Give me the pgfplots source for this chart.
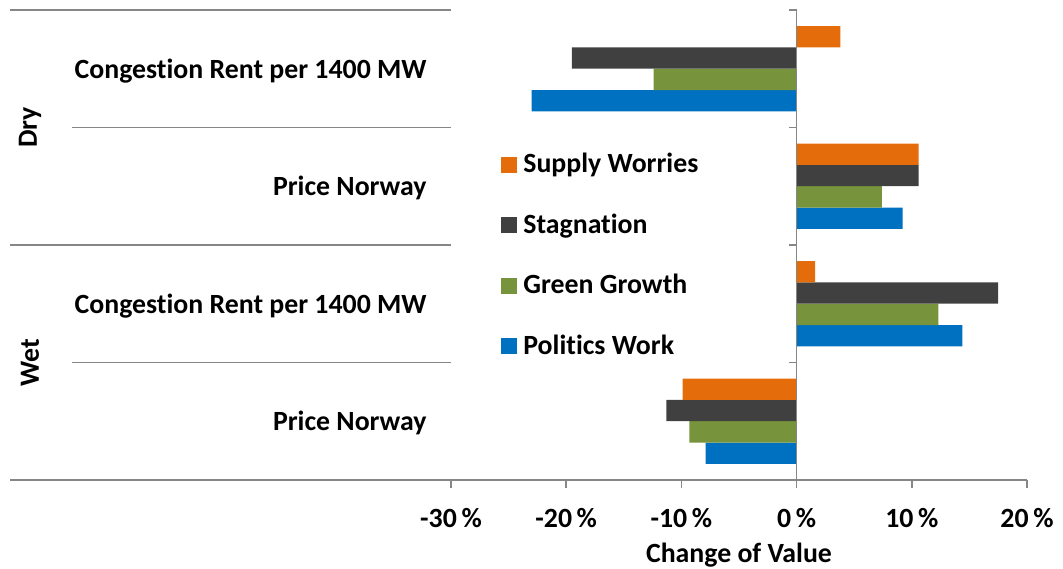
\documentclass[border=0pt]{standalone}
\usepackage{fontspec}
\setmainfont{Carlito}[Ligatures=NoCommon]
\usepackage{pgfplots}
\pgfplotsset{compat=1.18}
\definecolor{supply}{RGB}{228,108,10}
\definecolor{stag}{RGB}{64,64,64}
\definecolor{ggreen}{RGB}{119,147,60}
\definecolor{pblue}{RGB}{0,112,192}
\definecolor{axgray}{RGB}{134,134,134}

\begin{document}
\begin{tikzpicture}[font=\fontsize{13.9}{16}\selectfont\bfseries]
\begin{axis}[
  scale only axis, width=288pt, height=235pt,
  xbar=0pt, bar width=10.67pt,
  xmin=-30, xmax=20, ymin=0.5, ymax=4.5,
  axis x line*=bottom, axis y line*=left,
  y axis line style={draw=none},
  x axis line style={axgray, line width=0.75pt},
  xtick={-30,-20,...,20},
  xticklabels={-30\,\%,-20\,\%,-10\,\%,0\,\%,10\,\%,20\,\%},
  xtick style={axgray, line width=0.75pt},
  xtick align=outside, major tick length=4pt,
  xticklabel style={anchor=north, inner sep=0pt, yshift=-10pt},
  ytick={1,2,3,4},
  yticklabels={Price Norway, Congestion Rent per 1400 MW, Price Norway, Congestion Rent per 1400 MW},
  ytick style={draw=none},
  yticklabel style={anchor=east, inner sep=0pt, xshift=-8pt, yshift=-1pt},
  xlabel={Change of Value},
  every axis x label/.style={at={(axis description cs:0.5,0)}, anchor=center, yshift=-37.5pt},
  clip=false,
  reverse legend,
  legend image code/.code={\fill[#1] (0pt,-4pt) rectangle (8pt,4pt); \path (9pt,0pt);},
  legend style={draw=none, fill=none, at={(0.0868,0.4777)}, anchor=west,
    row sep=15pt, inner sep=0pt},
  legend cell align=left,
]
\addplot[fill=pblue, draw=none] coordinates {(-23.0,4) (9.2,3) (14.4,2) (-7.9,1)};
\addplot[fill=ggreen, draw=none] coordinates {(-12.4,4) (7.4,3) (12.3,2) (-9.3,1)};
\addplot[fill=stag, draw=none] coordinates {(-19.5,4) (10.6,3) (17.5,2) (-11.3,1)};
\addplot[fill=supply, draw=none] coordinates {(3.8,4) (10.6,3) (1.6,2) (-9.9,1)};
\legend{Politics Work, Green Growth, Stagnation, Supply Worries}

% vertical axis at zero with its small ticks
\draw[axgray, line width=0.75pt] (axis cs:0,0.5) -- (axis cs:0,4.5);
\draw[axgray, line width=0.75pt] (axis cs:0,0.5) -- ++(-4pt,0pt);
\draw[axgray, line width=0.75pt] (axis cs:0,1.5) -- ++(-4pt,0pt);
\draw[axgray, line width=0.75pt] (axis cs:0,2.5) -- ++(-4pt,0pt);
\draw[axgray, line width=0.75pt] (axis cs:0,3.5) -- ++(-4pt,0pt);
\draw[axgray, line width=0.75pt] (axis cs:0,4.5) -- ++(-4pt,0pt);

% category separators
\draw[axgray, line width=0.75pt] (axis cs:-30,4.5) -- ++(-220.5pt,0pt);
\draw[axgray, line width=0.75pt] (axis cs:-30,3.5) -- ++(-189.5pt,0pt);
\draw[axgray, line width=0.75pt] (axis cs:-30,2.5) -- ++(-220.5pt,0pt);
\draw[axgray, line width=0.75pt] (axis cs:-30,1.5) -- ++(-189.5pt,0pt);
\draw[axgray, line width=0.75pt] (axis cs:-30,0.5) -- ++(-220.5pt,0pt);

\node[rotate=90] at ([xshift=-210.5pt]axis cs:-30,3.5) {Dry};
\node[rotate=90] at ([xshift=-210.5pt]axis cs:-30,1.5) {Wet};
\end{axis}
\pgfresetboundingbox
\path ([shift={(-225.5pt,-44.5pt)}]current axis.south west) rectangle ([shift={(18pt,5pt)}]current axis.north east);
\end{tikzpicture}
\end{document}
